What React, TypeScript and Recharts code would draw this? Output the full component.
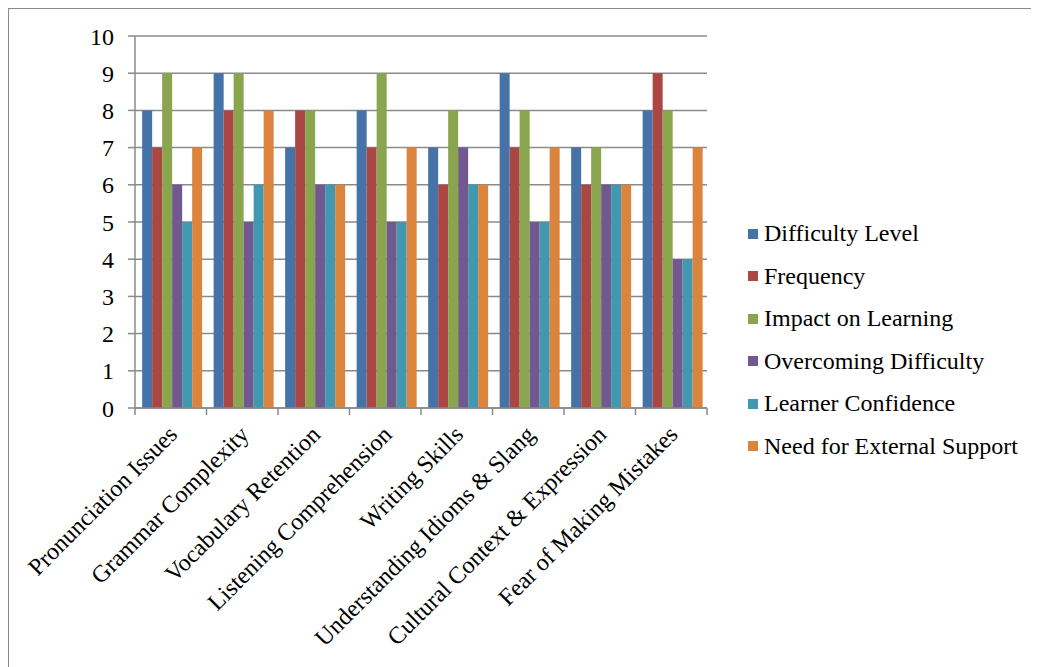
import { BarChart, Bar, XAxis, YAxis, CartesianGrid } from 'recharts';

const categories = [
  'Pronunciation Issues',
  'Grammar Complexity',
  'Vocabulary Retention',
  'Listening Comprehension',
  'Writing Skills',
  'Understanding Idioms & Slang',
  'Cultural Context & Expression',
  'Fear of Making Mistakes',
];

const difficultyLevel = [8, 9, 7, 8, 7, 9, 7, 8];
const frequency = [7, 8, 8, 7, 6, 7, 6, 9];
const impactOnLearning = [9, 9, 8, 9, 8, 8, 7, 8];
const overcomingDifficulty = [6, 5, 6, 5, 7, 5, 6, 4];
const learnerConfidence = [5, 6, 6, 5, 6, 5, 6, 4];
const externalSupport = [7, 8, 6, 7, 6, 7, 6, 7];

const yTicks = [0, 1, 2, 3, 4, 5, 6, 7, 8, 9, 10];

const series = [
  { key: 'difficulty', name: 'Difficulty Level', values: difficultyLevel, color: '#4572A7' },
  { key: 'frequency', name: 'Frequency', values: frequency, color: '#AA4643' },
  { key: 'impact', name: 'Impact on Learning', values: impactOnLearning, color: '#89A54E' },
  { key: 'overcoming', name: 'Overcoming Difficulty', values: overcomingDifficulty, color: '#71588F' },
  { key: 'confidence', name: 'Learner Confidence', values: learnerConfidence, color: '#4198AF' },
  { key: 'support', name: 'Need for External Support', values: externalSupport, color: '#DB843D' },
];

const data = categories.map((name, i) => {
  const row: Record<string, string | number> = { name };
  series.forEach((s) => {
    row[s.key] = s.values[i];
  });
  return row;
});

const FONT = '"Liberation Serif", "Times New Roman", serif';
const GRID = '#8a8a8a';
const PLOT_W = 572;
const HALF_BAND = PLOT_W / categories.length / 2;

function CategoryTick(props: any) {
  const { x, y, payload, index } = props;
  const tx = x + 2;
  const ty = y + 22;
  return (
    <g>
      <line x1={x - HALF_BAND} y1={y} x2={x - HALF_BAND} y2={y + 7} stroke={GRID} strokeWidth={1.5} />
      {index === categories.length - 1 && (
        <line x1={x + HALF_BAND} y1={y} x2={x + HALF_BAND} y2={y + 7} stroke={GRID} strokeWidth={1.5} />
      )}
      <text
        x={tx}
        y={ty}
        dy="0.35em"
        textAnchor="end"
        transform={`rotate(-45, ${tx}, ${ty})`}
        fill="#000"
        fontSize={24}
        fontFamily={FONT}
      >
        {payload.value}
      </text>
    </g>
  );
}

export default function App() {
  return (
    <div
      style={{
        position: 'relative',
        width: 1031,
        height: 659,
        borderTop: `1px solid ${GRID}`,
        borderLeft: `1px solid ${GRID}`,
        boxSizing: 'border-box',
        background: '#fff',
        fontFamily: FONT,
      }}
    >
      <BarChart
        width={1030}
        height={658}
        data={data}
        margin={{ top: 27, right: 332, left: 0, bottom: 9 }}
        barCategoryGap="10%"
        barGap={0}
      >
        <CartesianGrid vertical={false} stroke={GRID} strokeWidth={1.5} />
        <XAxis
          dataKey="name"
          interval={0}
          height={250}
          tickLine={false}
          tickSize={0}
          tickMargin={0}
          axisLine={{ stroke: GRID, strokeWidth: 1.5 }}
          tick={<CategoryTick />}
        />
        <YAxis
          width={126}
          domain={[0, 10]}
          ticks={yTicks}
          interval={0}
          tickSize={7}
          tickMargin={14}
          axisLine={{ stroke: GRID, strokeWidth: 1.5 }}
          tickLine={{ stroke: GRID, strokeWidth: 1.5 }}
          tick={{ fill: '#000', fontSize: 24, fontFamily: FONT }}
        />
        {series.map((s) => (
          <Bar key={s.key} dataKey={s.key} name={s.name} fill={s.color} isAnimationActive={false} />
        ))}
      </BarChart>
      <div style={{ position: 'absolute', left: 739, top: 203.5 }}>
        {series.map((s) => (
          <div key={s.key} style={{ height: 42.5, display: 'flex', alignItems: 'center' }}>
            <span style={{ width: 10, height: 10, background: s.color, display: 'inline-block' }} />
            <span style={{ marginLeft: 6, fontSize: 24, color: '#000', whiteSpace: 'nowrap' }}>{s.name}</span>
          </div>
        ))}
      </div>
    </div>
  );
}
